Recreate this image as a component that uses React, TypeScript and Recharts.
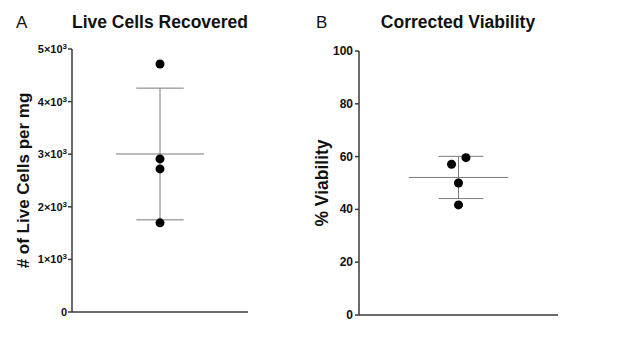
import { ReferenceLine, Scatter, ScatterChart, XAxis, YAxis } from "recharts";

// Panel A: live cells per mg
const liveCells = [4715, 2910, 2720, 1695];
const liveX = [1, 1, 1, 1];
const liveMeanSd = [3004, 1252]; // mean, SD
const liveTicks = [0, 1000, 2000, 3000, 4000, 5000];

// Panel B: corrected viability (%)
const viability = [57.1, 59.6, 50.0, 41.7];
const viabilityX = [0.93, 1.075, 1.0, 1.0];
const viabilityMeanSd = [52.1, 8.0];
const viabilityTicks = [0, 20, 40, 60, 80, 100];

const FONT = "Arial, 'Liberation Sans', Helvetica, sans-serif";
const AXIS = "#3a3a3a";
const BAR = "#7a7a7a";

const liveData = liveCells.map((v, i) => ({ x: liveX[i], y: v }));
const viabilityData = viability.map((v, i) => ({ x: viabilityX[i], y: v }));

function SciTick(props: any) {
  const { x, y, payload } = props;
  const v = payload.value as number;
  if (v === 0) {
    return (
      <text x={x + 1} y={y + 4} textAnchor="end" fontSize={11} fontWeight="bold" fill="#111" fontFamily={FONT}>
        0
      </text>
    );
  }
  return (
    <text x={x + 1} y={y + 4} textAnchor="end" fontSize={11} fontWeight="bold" fill="#111" fontFamily={FONT}>
      {`${v / 1000}×10`}
      <tspan fontSize={8} dy={-4}>3</tspan>
    </text>
  );
}

function PlainTick(props: any) {
  const { x, y, payload } = props;
  return (
    <text x={x} y={y + 4} textAnchor="end" fontSize={12} fontWeight="bold" fill="#111" fontFamily={FONT}>
      {payload.value}
    </text>
  );
}

function Dot(props: any) {
  return <circle cx={props.cx} cy={props.cy} r={4.5} fill="#000" />;
}

function Title({ letter, text, left, center }: { letter: string; text: string; left: number; center: number }) {
  return (
    <>
      <div style={{ position: "absolute", left, top: 13, fontSize: 17, fontFamily: FONT, color: "#111" }}>{letter}</div>
      <div
        style={{
          position: "absolute",
          left: center - 120,
          width: 240,
          top: 12,
          textAlign: "center",
          fontSize: 17.5,
          fontWeight: "bold",
          fontFamily: FONT,
          color: "#111",
        }}
      >
        {text}
      </div>
    </>
  );
}

export default function App() {
  const [lm, lsd] = liveMeanSd;
  const [vm, vsd] = viabilityMeanSd;
  return (
    <div
      style={{
        position: "absolute",
        left: 0,
        top: 0,
        width: 624,
        height: 354,
        background: "#fff",
        overflow: "hidden",
      }}
    >
      <Title letter="A" text="Live Cells Recovered" left={16} center={160} />
      <Title letter="B" text="Corrected Viability" left={316} center={458} />

      <div style={{ position: "absolute", left: 0, top: 0 }}>
        <ScatterChart width={280} height={354} margin={{ top: 49, right: 32, bottom: 22, left: 0 }}>
          <XAxis type="number" dataKey="x" domain={[0, 2]} tick={false} tickLine={false} height={20} stroke={AXIS} strokeWidth={1.5} />
          <YAxis
            type="number"
            dataKey="y"
            domain={[0, 5000]}
            ticks={liveTicks}
            width={72}
            stroke={AXIS}
            strokeWidth={1.5}
            tickSize={4}
            tick={<SciTick />}
            label={{
              value: "# of Live Cells per mg",
              angle: -90,
              position: "insideLeft",
              offset: 0,
              dx: 23,
              style: { fontSize: 17, fontWeight: "bold", fontFamily: FONT, fill: "#111", textAnchor: "middle" },
            }}
          />
          <ReferenceLine segment={[{ x: 0.5, y: lm }, { x: 1.5, y: lm }]} stroke={BAR} strokeWidth={1} />
          <ReferenceLine segment={[{ x: 1, y: lm - lsd }, { x: 1, y: lm + lsd }]} stroke={BAR} strokeWidth={1} />
          <ReferenceLine segment={[{ x: 0.73, y: lm + lsd }, { x: 1.27, y: lm + lsd }]} stroke={BAR} strokeWidth={1} />
          <ReferenceLine segment={[{ x: 0.73, y: lm - lsd }, { x: 1.27, y: lm - lsd }]} stroke={BAR} strokeWidth={1} />
          <Scatter data={liveData} shape={<Dot />} isAnimationActive={false} />
        </ScatterChart>
      </div>

      <div style={{ position: "absolute", left: 300, top: 0 }}>
        <ScatterChart width={280} height={354} margin={{ top: 51, right: 22, bottom: 19, left: 0 }}>
          <XAxis type="number" dataKey="x" domain={[0, 2]} tick={false} tickLine={false} height={20} stroke={AXIS} strokeWidth={1.5} />
          <YAxis
            type="number"
            dataKey="y"
            domain={[0, 100]}
            ticks={viabilityTicks}
            width={59}
            stroke={AXIS}
            strokeWidth={1.5}
            tickSize={4}
            tick={<PlainTick />}
            label={{
              value: "% Viability",
              angle: -90,
              position: "insideLeft",
              offset: 0,
              dx: 22,
              style: { fontSize: 17.5, fontWeight: "bold", fontFamily: FONT, fill: "#111", textAnchor: "middle" },
            }}
          />
          <ReferenceLine segment={[{ x: 0.5, y: vm }, { x: 1.5, y: vm }]} stroke={BAR} strokeWidth={1} />
          <ReferenceLine segment={[{ x: 1, y: vm - vsd }, { x: 1, y: vm + vsd }]} stroke={BAR} strokeWidth={1} />
          <ReferenceLine segment={[{ x: 0.8, y: vm + vsd }, { x: 1.25, y: vm + vsd }]} stroke={BAR} strokeWidth={1} />
          <ReferenceLine segment={[{ x: 0.8, y: vm - vsd }, { x: 1.25, y: vm - vsd }]} stroke={BAR} strokeWidth={1} />
          <Scatter data={viabilityData} shape={<Dot />} isAnimationActive={false} />
        </ScatterChart>
      </div>
    </div>
  );
}
